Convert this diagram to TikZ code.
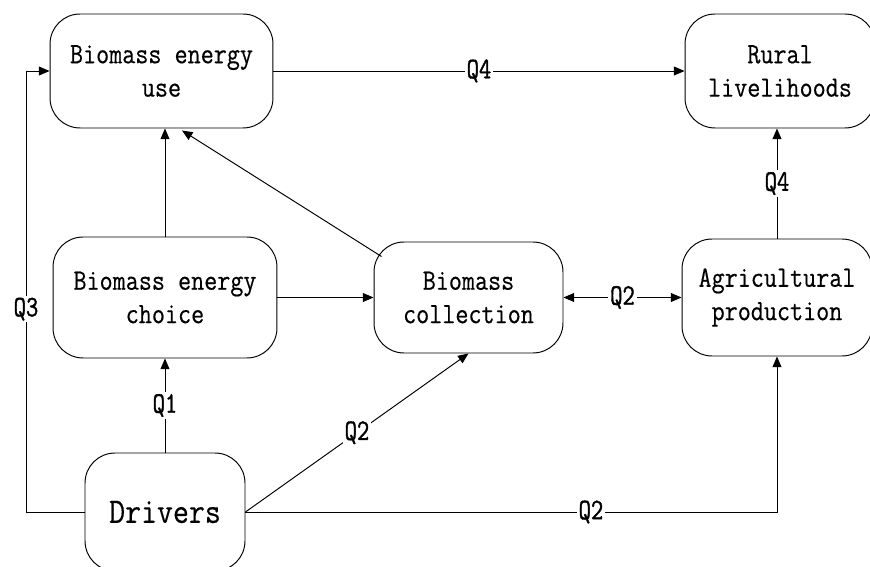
\documentclass[tikz,border=0pt]{standalone}
\usepackage{fontspec}
\newfontfamily\boxfont{Latin Modern Mono}[FakeStretch=0.86,FakeBold=0.4]
\newfontfamily\lblfont{Latin Modern Mono}[FakeStretch=0.8,FakeBold=1.2]
\usetikzlibrary{arrows.meta,calc}
\begin{document}
\begin{tikzpicture}[x=0.02cm,y=-0.02cm,
  box/.style={draw,line width=0.55pt,rounded corners=0.6cm,align=center,inner sep=0pt,
    font=\boxfont\fontsize{16.8}{19}\selectfont},
  arr/.style={line width=0.55pt,-{Triangle[length=6pt,width=5pt]}},
  arrtwo/.style={line width=0.55pt,{Triangle[length=6pt,width=5pt]}-{Triangle[length=6pt,width=5pt]}},
  lbl/.style={fill=white,inner sep=1pt,font=\lblfont\fontsize{17}{17}\selectfont}]
\clip (0,0) rectangle (870,567);
\useasboundingbox (0,0) rectangle (870,567);
\node[box,minimum width=4.46cm,minimum height=2.28cm] (use) at (161.5,71) {Biomass energy\\use};
\node[box,minimum width=3.8cm,minimum height=2.28cm] (rural) at (780,71) {Rural\\livelihoods};
\node[box,minimum width=4.48cm,minimum height=2.42cm] (choice) at (165,297.5) {Biomass energy\\choice};
\node[box,minimum width=3.78cm,minimum height=2.22cm] (col) at (468.5,297.5) {Biomass\\collection};
\node[box,minimum width=3.8cm,minimum height=2.34cm] (agri) at (777,297.5) {Agricultural\\production};
\node[box,minimum width=3.2cm,minimum height=2.36cm,font=\boxfont\fontsize{20.5}{21}\selectfont] (drv) at (165,512) {Drivers};
\coordinate (q3) at (26,512);
\draw[arr] (use.east) -- node[lbl]{Q4} (rural.west);
\draw[arr] (choice.north) -- (choice.north |- use.south);
\draw[arr] ($(col.north west)+(8,15)$) -- ($(use.south)+(20.5,2)$);
\draw[arr] (choice.east) -- (col.west);
\draw[arrtwo] (col.east) -- node[lbl]{Q2} (agri.west);
\draw[arr] (agri.north) -- node[lbl]{Q4} (agri.north |- rural.south);
\draw[arr] (drv.north) -- node[lbl]{Q1} (choice.south);
\draw[arr] (drv.east) -- node[lbl]{Q2} (col.south);
\draw[arr] (drv.east) -- node[lbl,pos=0.65]{Q2} (drv.east -| agri.south) -- (agri.south);
\draw[arr] (drv.west) -- (q3) -- node[lbl,pos=0.46]{Q3} (q3 |- use.west) -- (use.west);
\end{tikzpicture}
\end{document}
